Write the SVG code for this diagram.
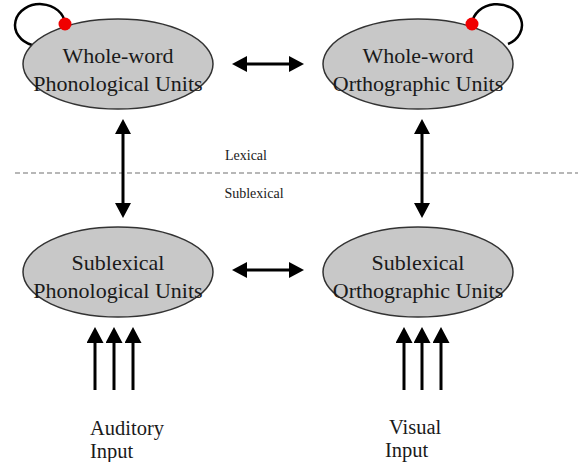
<svg xmlns="http://www.w3.org/2000/svg" width="578" height="462" viewBox="0 0 578 462">
<style>
.node ellipse{fill:#c8c8c8;stroke:#333;stroke-width:1.5}
.lbl{font-family:"Liberation Serif","Times New Roman",serif;font-size:22px;fill:#1a1a1a;text-anchor:middle}
.small{font-family:"Liberation Serif","Times New Roman",serif;font-size:14px;fill:#1a1a1a;text-anchor:middle}
.inp{font-family:"Liberation Serif","Times New Roman",serif;font-size:20.5px;fill:#1a1a1a}
.shaft{stroke:#000;stroke-width:3;fill:none}
.loop{stroke:#000;stroke-width:2.5;fill:none}
.dot{fill:#f00000}
</style>
<defs>
<marker id="ah" viewBox="0 0 15 16" refX="3" refY="8" markerWidth="15" markerHeight="16" orient="auto-start-reverse" markerUnits="userSpaceOnUse"><path d="M0,0 L15,8 L0,16 z" fill="#000"/></marker>
<marker id="ahs" viewBox="0 0 16 17" refX="3" refY="8.5" markerWidth="16" markerHeight="17" orient="auto" markerUnits="userSpaceOnUse"><path d="M0,0 L16,8.5 L0,17 z" fill="#000"/></marker>
</defs>
<line x1="15" y1="173" x2="578" y2="173" stroke="#a0a0a0" stroke-width="1.5" stroke-dasharray="5,3"/>
<text class="small" x="246" y="160">Lexical</text>
<text class="small" x="254" y="198">Sublexical</text>
<g id="loops">
<path class="loop" d="M65,24 A25,21 0 1 0 32,45"/>
<path class="loop" d="M472,24 A25,21 0 1 1 508,44"/>
</g>
<g id="ww-phon" class="node">
<ellipse cx="118" cy="64" rx="95" ry="45"/>
<text class="lbl" x="118" y="63">Whole-word</text>
<text class="lbl" x="118" y="91">Phonological Units</text>
<circle class="dot" cx="65" cy="24" r="6.5"/>
</g>
<g id="ww-orth" class="node">
<ellipse cx="418" cy="64" rx="95" ry="45"/>
<text class="lbl" x="418" y="63">Whole-word</text>
<text class="lbl" x="418" y="91">Orthographic Units</text>
<circle class="dot" cx="472" cy="24" r="6.5"/>
</g>
<g id="sub-phon" class="node">
<ellipse cx="118" cy="272" rx="95" ry="45"/>
<text class="lbl" x="118" y="270">Sublexical</text>
<text class="lbl" x="118" y="298">Phonological Units</text>
</g>
<g id="sub-orth" class="node">
<ellipse cx="418" cy="272" rx="95" ry="45"/>
<text class="lbl" x="418" y="270">Sublexical</text>
<text class="lbl" x="418" y="298">Orthographic Units</text>
</g>
<g id="connectors">
<line class="shaft" x1="244" y1="64" x2="292" y2="64" marker-start="url(#ah)" marker-end="url(#ah)"/>
<line class="shaft" x1="244" y1="270" x2="292" y2="270" marker-start="url(#ah)" marker-end="url(#ah)"/>
<line class="shaft" x1="123" y1="131" x2="123" y2="206" marker-start="url(#ah)" marker-end="url(#ah)"/>
<line class="shaft" x1="422" y1="131" x2="422" y2="206" marker-start="url(#ah)" marker-end="url(#ah)"/>
<line class="shaft" x1="95" y1="390" x2="95" y2="340" marker-end="url(#ahs)"/>
<line class="shaft" x1="114" y1="390" x2="114" y2="340" marker-end="url(#ahs)"/>
<line class="shaft" x1="133" y1="390" x2="133" y2="340" marker-end="url(#ahs)"/>
<line class="shaft" x1="404" y1="390" x2="404" y2="340" marker-end="url(#ahs)"/>
<line class="shaft" x1="422" y1="390" x2="422" y2="340" marker-end="url(#ahs)"/>
<line class="shaft" x1="441" y1="390" x2="441" y2="340" marker-end="url(#ahs)"/>
</g>
<text class="inp" x="90" y="435">Auditory</text>
<text class="inp" x="90" y="458">Input</text>
<text class="inp" x="389" y="434">Visual</text>
<text class="inp" x="385" y="457">Input</text>
</svg>
